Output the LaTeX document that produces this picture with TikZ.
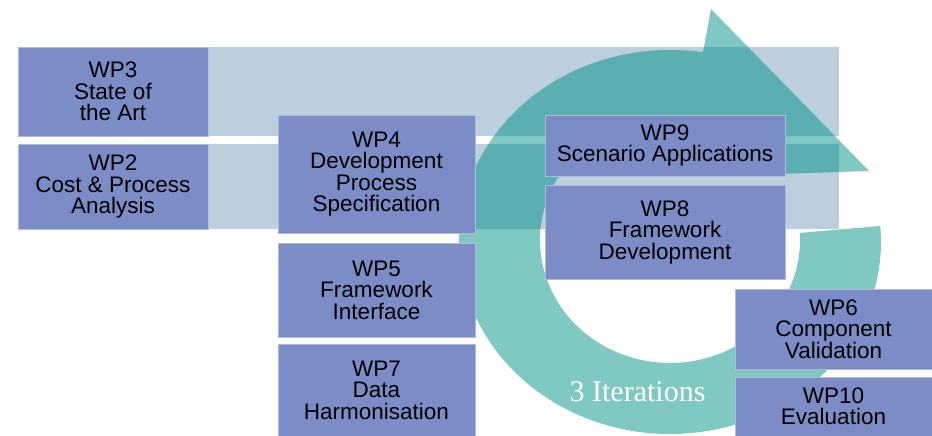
\documentclass[tikz,border=0pt]{standalone}
\usepackage{fontspec}
\setmainfont{Liberation Sans}
\newfontfamily\iterfont{Liberation Serif}
\definecolor{bandc}{RGB}{187,208,220}
\definecolor{boxc}{RGB}{123,140,198}
\definecolor{tealL}{RGB}{128,200,194}
\definecolor{tealD}{RGB}{91,175,176}
\newcommand\ringshape{plot[domain=-4.8:279,samples=180] ({670+211*cos(\x)},{242+192*sin(\x)}) -- (711,9) -- (869,171) -- (682,177) -- plot[domain=279:-3.3,samples=180] ({670+130*cos(\x)},{240+123*sin(\x)}) -- cycle}
\tikzset{
  wpbox/.style={rectangle, fill=boxc, draw=boxc!60!white, line width=0.6pt, inner sep=0pt, align=center, text=black,
    font=\fontsize{22.5}{21.5}\selectfont},
  band/.style={fill=bandc},
}
\begin{document}
\begin{tikzpicture}[x=1pt,y=-1pt]
\useasboundingbox (0,0) rectangle (932,436);
% bands
\fill[band] (18,47) rectangle (839,136);
\fill[band] (18,144) rectangle (839,229);
% circular arrow
\fill[tealL] \ringshape;
\begin{scope}
  \clip (18,47) rectangle (839,136) (18,144) rectangle (839,229);
  \fill[tealD] \ringshape;
\end{scope}
% work packages
\node[wpbox, minimum width=190, minimum height=89] (wp3) at (113,91.5) {WP3\\State of\\the Art};
\node[wpbox, minimum width=190, minimum height=85] (wp2) at (113,186.5) {WP2\\Cost \& Process\\Analysis};
\node[wpbox, minimum width=197, minimum height=118] (wp4) at (376.5,174) {WP4\\Development\\Process\\Specification};
\node[wpbox, minimum width=197, minimum height=94] (wp5) at (376.5,290) {WP5\\Framework\\Interface};
\node[wpbox, minimum width=197, minimum height=92] (wp7) at (376.5,390) {WP7\\Data\\Harmonisation};
\node[wpbox, minimum width=240, minimum height=61] (wp9) at (665,145.5) {WP9\\Scenario Applications};
\node[wpbox, minimum width=240, minimum height=94] (wp8) at (665,232) {WP8\\Framework\\Development};
\node[wpbox, minimum width=197, minimum height=80] (wp6) at (833.5,329) {WP6\\Component\\Validation};
\node[wpbox, minimum width=197, minimum height=59] (wp10) at (833.5,406.5) {WP10\\Evaluation};
\node[anchor=base, inner sep=0pt, text=white, font=\iterfont\fontsize{30}{30}\selectfont] (iter) at (637.5,401.7) {3 Iterations};
\end{tikzpicture}
\end{document}
